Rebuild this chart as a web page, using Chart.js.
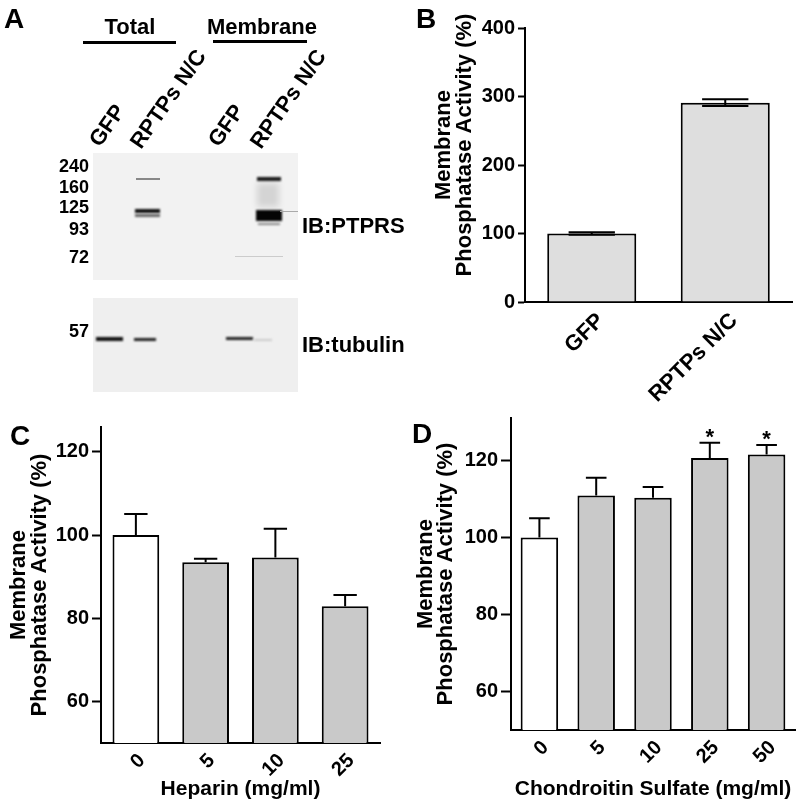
<!DOCTYPE html>
<html>
<head>
<meta charset="utf-8">
<script src="https://cdn.jsdelivr.net/npm/chart.js@4"></script>
<style>
  body { margin: 0; background: #fff; }
  #wrap { position: relative; width: 800px; height: 806px; overflow: hidden; }
  canvas { position: absolute; }
</style>
</head>
<body>
<div id="wrap">
  <canvas id="panelA" width="800" height="806" style="left:0;top:0"></canvas>
  <canvas id="chartB" width="400" height="420" style="left:400px;top:0"></canvas>
  <canvas id="chartC" width="400" height="386" style="left:0;top:420px"></canvas>
  <canvas id="chartD" width="400" height="394" style="left:400px;top:412px"></canvas>
</div>
<script>
// panel B
const bLabels = ["GFP", "RPTPs N/C"];
const bValues = [100, 291];
const bErrors = [2, 5];
const bTicks = [0, 100, 200, 300, 400];

// panel C
const cLabels = ["0", "5", "10", "25"];
const cValues = [100, 93.5, 94.6, 82.9];
const cErrors = [5.1, 0.8, 6.9, 2.7];
const cTicks = [60, 80, 100, 120];

// panel D
const dLabels = ["0", "5", "10", "25", "50"];
const dValues = [100, 110.9, 110.3, 120.6, 121.5];
const dErrors = [5.0, 4.6, 2.8, 4.0, 2.5];
const dMarks = ["", "", "", "*", "*"];
const dTicks = [60, 80, 100, 120];

const yTitle = ["Membrane", "Phosphatase Activity (%)"];
const FONT = "'Liberation Sans', Arial, sans-serif";

Chart.defaults.font.family = FONT;
Chart.defaults.font.weight = "bold";
Chart.defaults.color = "#000";

// error bars (and significance marks) on top of the bars
const errorBars = {
  id: "errorBars",
  afterDatasetsDraw(chart, args, opts) {
    const ctx = chart.ctx;
    const yScale = chart.scales.y;
    const values = chart.data.datasets[0].data;
    chart.getDatasetMeta(0).data.forEach((bar, i) => {
      const v = values[i];
      const e = opts.errors[i];
      const top = yScale.getPixelForValue(v + e);
      const half = (bar.width * opts.cap) / 2;
      ctx.save();
      ctx.strokeStyle = "#000";
      ctx.lineWidth = 2;
      ctx.beginPath();
      ctx.moveTo(bar.x, bar.y);
      ctx.lineTo(bar.x, top);
      ctx.moveTo(bar.x - half, top);
      ctx.lineTo(bar.x + half, top);
      if (opts.both) {
        const low = yScale.getPixelForValue(v - e);
        ctx.moveTo(bar.x, bar.y);
        ctx.lineTo(bar.x, low);
        ctx.moveTo(bar.x - half, low);
        ctx.lineTo(bar.x + half, low);
      }
      ctx.stroke();
      if (opts.marks && opts.marks[i]) {
        ctx.fillStyle = "#000";
        ctx.font = "bold 22px " + FONT;
        ctx.textAlign = "center";
        ctx.textBaseline = "middle";
        ctx.fillText(opts.marks[i], bar.x, top - 5);
      }
      ctx.restore();
    });
  }
};

function makeChart(id, labels, values, errors, colors, o) {
  return new Chart(document.getElementById(id), {
    type: "bar",
    data: {
      labels: labels,
      datasets: [{
        data: values,
        backgroundColor: colors,
        borderColor: "#000",
        borderWidth: 2,
        categoryPercentage: 1,
        barPercentage: o.barPct
      }]
    },
    plugins: [errorBars],
    options: {
      responsive: false,
      animation: false,
      layout: { padding: { top: o.top, right: o.right, left: 0, bottom: 0 } },
      plugins: {
        legend: { display: false },
        tooltip: { enabled: false },
        errorBars: { errors: errors, both: o.both, cap: o.cap, marks: o.marks }
      },
      scales: {
        x: {
          grid: { display: false, drawTicks: false },
          border: { color: "#000", width: 2 },
          ticks: {
            font: { size: o.xFont, weight: "bold" },
            minRotation: 45,
            maxRotation: 45,
            autoSkip: false,
            padding: o.xPad,
            labelOffset: o.xShift
          },
          title: {
            display: !!o.xTitle,
            text: o.xTitle,
            font: { size: 21, weight: "bold" },
            padding: { top: 0, bottom: 4 }
          },
          afterFit(s) {
            s.height = o.xHeight;
            s.paddingLeft = 0;
            s.paddingRight = 0;
          }
        },
        y: {
          min: o.min,
          max: o.max,
          grid: { drawOnChartArea: false, tickLength: o.tickLen, tickWidth: 2, tickColor: "#000" },
          border: { color: "#000", width: 2 },
          ticks: { font: { size: 20, weight: "bold" }, padding: 3 },
          afterBuildTicks(s) {
            s.ticks = o.ticks.map(v => ({ value: v }));
          },
          title: {
            display: true,
            text: yTitle,
            font: { size: 22, weight: "bold", lineHeight: 0.95 },
            padding: { top: o.titlePad, bottom: 0 }
          },
          afterFit(s) {
            s.width = o.yWidth;
            s.paddingTop = 0;
            s.paddingBottom = 0;
            // nudge the axis title along the axis
            if (o.titleShift && !s._shifted) {
              const draw = s.drawTitle;
              s.drawTitle = function () {
                this.top += o.titleShift; this.bottom += o.titleShift;
                draw.call(this);
                this.top -= o.titleShift; this.bottom -= o.titleShift;
              };
              s._shifted = true;
            }
          }
        }
      }
    }
  });
}

makeChart("chartB", bLabels, bValues, bErrors, ["#dedede", "#dedede"], {
  top: 28, right: 8, yWidth: 125, xHeight: 118, min: 0, max: 400, ticks: bTicks,
  tickLen: 7, titlePad: 33.5, titleShift: -20, barPct: 0.667, cap: 0.52, both: true,
  xFont: 22, xPad: 6, xShift: 9
});

makeChart("chartC", cLabels, cValues, cErrors, ["#ffffff", "#c9c9c9", "#c9c9c9", "#c9c9c9"], {
  top: 7, right: 20, yWidth: 101, xHeight: 63, min: 50, max: 126, ticks: cTicks,
  tickLen: 9, titlePad: 8.5, barPct: 0.67, cap: 0.5, both: false,
  xFont: 20, xPad: 6, xShift: 6, xTitle: "Heparin (mg/ml)"
});

makeChart("chartD", dLabels, dValues, dErrors, ["#ffffff", "#c9c9c9", "#c9c9c9", "#c9c9c9", "#c9c9c9"], {
  top: 6, right: 5, yWidth: 111, xHeight: 76, min: 50, max: 131, ticks: dTicks,
  tickLen: 10, titlePad: 15, barPct: 0.66, cap: 0.55, both: false, marks: dMarks,
  xFont: 20, xPad: 6, xShift: 6, xTitle: "Chondroitin Sulfate (mg/ml)"
});

// panel A: western blot sketch plus the panel letters
function drawBlot() {
  const ctx = document.getElementById("panelA").getContext("2d");
  ctx.fillStyle = "#000";
  ctx.font = "bold 28px " + FONT;
  ctx.fillText("A", 4, 28);
  ctx.fillText("B", 416, 28);
  ctx.fillText("C", 10, 445);
  ctx.fillText("D", 412, 443);

  ctx.font = "bold 22px " + FONT;
  ctx.textAlign = "center";
  ctx.fillText("Total", 130, 34);
  ctx.fillText("Membrane", 262, 34);
  ctx.fillRect(83, 41, 93, 3);
  ctx.fillRect(213, 40, 94, 3);

  ctx.textAlign = "left";
  [[100, 148, "GFP"], [141, 150, "RPTPs N/C"], [219, 148, "GFP"], [261, 150, "RPTPs N/C"]].forEach(([x, y, t]) => {
    ctx.save();
    ctx.translate(x, y);
    ctx.rotate(-55 * Math.PI / 180);
    ctx.fillText(t, 0, 0);
    ctx.restore();
  });

  // membranes
  ctx.fillStyle = "#f2f2f2";
  ctx.fillRect(93, 153, 205, 127);
  ctx.fillStyle = "#efefef";
  ctx.fillRect(93, 298, 205, 94);

  // marker labels
  ctx.fillStyle = "#000";
  ctx.font = "bold 18px " + FONT;
  ctx.textAlign = "right";
  ctx.textBaseline = "middle";
  [["240", 167], ["160", 188], ["125", 208], ["93", 230], ["72", 258], ["57", 332]].forEach(([t, y]) => ctx.fillText(t, 89, y));

  ctx.textAlign = "left";
  ctx.textBaseline = "alphabetic";
  ctx.font = "bold 22px " + FONT;
  ctx.fillText("IB:PTPRS", 302, 233);
  ctx.fillText("IB:tubulin", 302, 352);

  function band(x, y, w, h, color, blur) {
    ctx.save();
    ctx.filter = "blur(" + blur + "px)";
    ctx.fillStyle = color;
    ctx.fillRect(x, y, w, h);
    ctx.restore();
  }
  // PTPRS blot
  band(136, 178, 24, 2, "#888", 0.7);
  band(135, 209, 25, 4, "#111", 0.8);
  band(135, 214, 25, 3, "#666", 1);
  band(257, 183, 22, 24, "rgba(0,0,0,0.12)", 3);
  band(257, 177, 24, 4, "#1a1a1a", 0.8);
  band(256, 210, 26, 11, "#050505", 1.2);
  band(280, 211, 18, 1, "#aaa", 0.5);
  band(258, 223, 22, 2, "#888", 1);
  band(235, 256, 48, 1, "#ccc", 0.6);
  // tubulin blot
  band(96, 337, 27, 4, "#111", 0.8);
  band(134, 338, 22, 3, "#222", 0.8);
  band(226, 337, 27, 3, "#222", 0.8);
  band(254, 339, 18, 2, "#ccc", 0.8);
}
drawBlot();
</script>
</body>
</html>
